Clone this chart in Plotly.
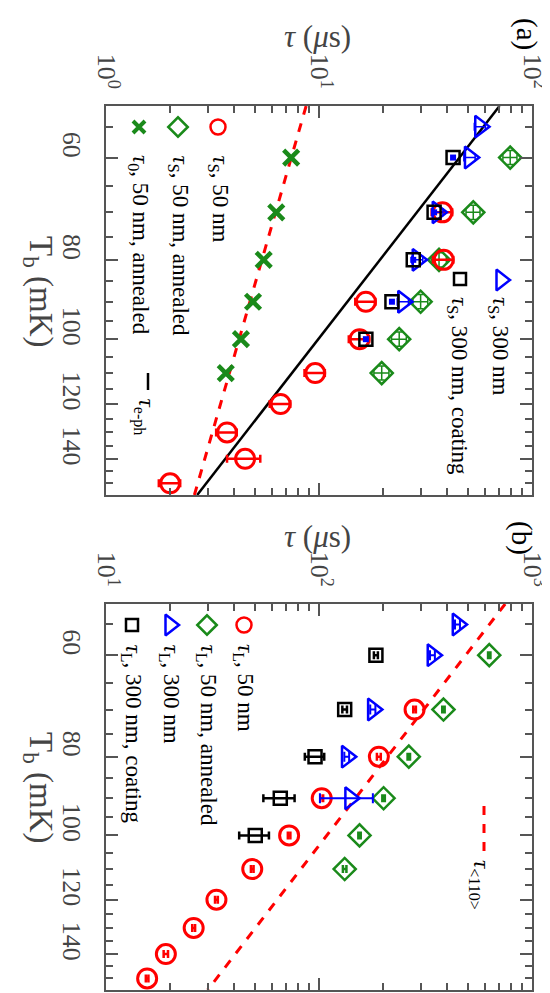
import math
import plotly.graph_objects as go

W, H = 550, 993
SERIF = "Liberation Serif, Times New Roman, serif"
RED, GREEN, BLUE, BLACK = "#ff0000", "#1a8a1a", "#0000ff", "#000000"

# ---------------- panel (a) : tau_S, tau_0 (us) vs T_b (mK)
T_s50 = [70, 80, 90, 100, 110, 120, 130, 140, 150]
tau_s50 = [38, 38.5, 16.6, 15.5, 9.6, 6.6, 3.7, 4.5, 2.0]
err_s50 = [4.2, 4.2, 1.8, 1.7, 1.05, 0.73, 0.41, 0.8, 0.23]

T_s50ann = [60, 70, 80, 90, 100, 110]
tau_s50ann = [79, 53, 36.6, 30, 23.8, 19.7]
err_s50ann = [6, 4, 3, 2.4, 1.9, 1.6]
errT_s50ann = [1.2, 1.4, 1.6, 1.8, 2.0, 2.2]

T_0ann = [60, 70, 80, 90, 100, 110]
tau_0ann = [7.4, 6.3, 5.5, 4.9, 4.3, 3.65]

T_s300 = [55, 60, 70, 80, 90]
tau_s300 = [57, 51, 36, 29, 24.8]
err_s300 = [3.4, 3.1, 2.2, 1.7, 1.5]

T_s300c = [60, 70, 80, 90, 100]
tau_s300c = [42.6, 34.7, 27.7, 22, 16.6]

T_fit = [51.9, 155]
tau_eph = [70.4, 2.68]
tau_0fit = [8.7, 2.6]

# ---------------- panel (b) : tau_L (us) vs T_b (mK)
T_L50 = [70, 80, 90, 100, 110, 120, 130, 140, 150]
tau_L50 = [281, 191, 103, 72.4, 48.6, 33, 25.8, 19.1, 15.6]
err_L50 = [4, 4, 1.6, 1.0, 0.7, 0.5, 0.4, 0.45, 0.22]

T_L50ann = [60, 70, 80, 90, 100, 110]
tau_L50ann = [630, 384, 264, 201, 155, 132]
err_L50ann = [8, 5, 3.5, 2.7, 2, 2.5]

T_L300 = [55, 60, 70, 80, 90]
tau_L300 = [447, 341, 179, 135, 140]
err_L300 = [12, 9, 5, 3.5, 39]

T_L300c = [60, 70, 80, 90, 100]
tau_L300c = [185, 132, 95.8, 65.8, 50.2]
err_L300c = [4, 3.3, 10, 11, 8]

tau_110 = [748, 30]

T_major = [60, 80, 100, 120, 140]
T_minor = [t for t in range(55, 155, 5) if t not in T_major]


def pts(x, y, xa, ya, symbol, color, size, lw=2.5, err=None, errw=2, cap=4,
        fill=None, erry=None):
    tr = go.Scatter(
        x=x, y=y, xaxis=xa, yaxis=ya, mode="markers", showlegend=False,
        cliponaxis=False,
        marker=dict(symbol=symbol, size=size, color=fill or "rgba(0,0,0,0)",
                    line=dict(color=color, width=lw)))
    if err is not None:
        tr.error_x = dict(type="data", array=err, color=color,
                          thickness=errw, width=cap)
    if erry is not None:
        tr.error_y = dict(type="data", array=erry, color=color,
                          thickness=errw, width=cap)
    return tr


def line(x, y, xa, ya, color, dash, width):
    return go.Scatter(x=x, y=y, xaxis=xa, yaxis=ya, mode="lines",
                      showlegend=False, line=dict(color=color, dash=dash, width=width))


fig = go.Figure()

# panel (a)
fig.add_trace(line(tau_0fit, T_fit, "x", "y", RED, "dash", 3))
fig.add_trace(line(tau_eph, T_fit, "x", "y", BLACK, "solid", 2.5))
fig.add_trace(pts(tau_s50ann, T_s50ann, "x", "y", "diamond", GREEN, 17,
                  err=err_s50ann, errw=1.5, cap=3, erry=errT_s50ann))
fig.add_trace(pts(tau_s50, T_s50, "x", "y", "circle", RED, 19, lw=3,
                  err=err_s50, errw=2.5, cap=4))
fig.add_trace(pts(tau_s300, T_s300, "x", "y", "triangle-right", BLUE, 19,
                  err=err_s300, errw=1.5, cap=4))
fig.add_trace(pts(tau_s300c, T_s300c, "x", "y", "square", BLACK, 13))
fig.add_trace(pts(tau_s300c, T_s300c, "x", "y", "square", BLUE, 6, lw=0,
                  fill=BLUE))
fig.add_trace(pts(tau_0ann, T_0ann, "x", "y", "x-thin", GREEN, 15, lw=4.5))

# panel (b)
fig.add_trace(line(tau_110, T_fit, "x2", "y2", RED, "dash", 3))
fig.add_trace(pts(tau_L50ann, T_L50ann, "x2", "y2", "diamond", GREEN, 17,
                  err=err_L50ann, errw=2.5, cap=4))
fig.add_trace(pts(tau_L50, T_L50, "x2", "y2", "circle", RED, 19, lw=3,
                  err=err_L50, errw=2.5, cap=4))
fig.add_trace(pts(tau_L300, T_L300, "x2", "y2", "triangle-right", BLUE, 19,
                  err=err_L300, errw=2, cap=5))
fig.add_trace(pts(tau_L300c, T_L300c, "x2", "y2", "square", BLACK, 13,
                  err=err_L300c, errw=2.5, cap=4))

# legend keys, placed in page pixels on a hidden overlay axis
keys = [
    (210, 119, "circle", RED, 15), (170, 119, "diamond", GREEN, 15),
    (131, 119, "x-thin", GREEN, 12),
    (493, 272, "triangle-right", BLUE, 18), (452, 271, "square", BLACK, 12),
    (236, 617, "circle", RED, 15), (199, 617, "diamond", GREEN, 15),
    (162, 617, "triangle-right", BLUE, 18), (124, 617, "square", BLACK, 12),
]
for kx, ky, sym, col, sz in keys:
    fig.add_trace(go.Scatter(
        x=[kx], y=[ky], xaxis="x3", yaxis="y3", mode="markers", showlegend=False,
        marker=dict(symbol=sym, size=sz, color="rgba(0,0,0,0)",
                    line=dict(color=col, width=4 if sym == "x-thin" else 2.5))))

ax_common = dict(
    ticks="inside", ticklen=12, tickwidth=1.5, tickcolor="#555",
    showline=True, linecolor="#555", linewidth=2, mirror="ticks",
    showgrid=False, zeroline=False, automargin=False, tickangle=90,
    tickfont=dict(family=SERIF, size=26, color="#444"),
)
log_minor = [m * 10 ** k for k in range(0, 3) for m in range(2, 10)]


def tau_axis(domain, anchor, lo):
    vals = [10 ** lo, 10 ** (lo + 1), 10 ** (lo + 2)]
    return dict(ax_common, type="log", domain=domain, anchor=anchor, side="top",
                range=[lo, lo + 2], tickmode="array", tickvals=vals,
                ticktext=["10<sup>%d</sup>" % (lo + i) for i in range(3)],
                ticklabelstandoff=6,
                minor=dict(ticks="inside", ticklen=7, tickwidth=1.5,
                           tickcolor="#555", tickvals=log_minor))


def t_axis(domain, anchor):
    return dict(ax_common, type="log", domain=domain, anchor=anchor, side="left",
                range=[math.log10(155), math.log10(51.9)], tickmode="array",
                tickvals=T_major, ticktext=[str(t) for t in T_major],
                ticklabelstandoff=10, ticklabelshift=9,
                minor=dict(ticks="inside", ticklen=7, tickwidth=1.5,
                           tickcolor="#555", tickvals=T_minor))


xdom = [98 / W, 524 / W]
fig.update_layout(
    width=W, height=H, margin=dict(l=0, r=0, t=0, b=0),
    paper_bgcolor="white", plot_bgcolor="rgba(0,0,0,0)", showlegend=False,
    xaxis=tau_axis(xdom, "y", 0),
    yaxis=t_axis([1 - 487 / H, 1 - 98 / H], "x"),
    xaxis2=tau_axis(xdom, "y2", 1),
    yaxis2=t_axis([1 - 982 / H, 1 - 596 / H], "x2"),
    xaxis3=dict(domain=[0, 1], range=[0, W], visible=False, anchor="y3"),
    yaxis3=dict(domain=[0, 1], range=[H, 0], visible=False, anchor="x3"),
)


def note(text, x, y, size=23, angle=90, xanchor="center", yanchor="top",
         color=BLACK):
    fig.add_annotation(text=text, x=x / W, y=1 - y / H, xref="paper",
                       yref="paper", showarrow=False, textangle=angle,
                       xanchor=xanchor, yanchor=yanchor,
                       font=dict(family=SERIF, size=size, color=color))


tau = "<i>τ</i>"
# axis titles and panel tags
for yc in (28, 528):
    note(tau + " (<i>μ</i>s)", 309, yc, size=31, angle=0, yanchor="middle",
         color="#444")
for yc in (283, 779):
    note("T<sub>b</sub> (mK)", 31, yc, size=33, yanchor="middle", color="#444")
note("(a)", 518, 26, size=29, yanchor="middle")
note("(b)", 514, 530, size=29, yanchor="middle")

# legend texts, panel (a)
note(tau + "<sub>S</sub>, 50 nm", 210, 145)
note(tau + "<sub>S</sub>, 50 nm, annealed", 170, 145)
note(tau + "<sub>0</sub>, 50 nm, annealed", 131, 145)
note(tau + "<sub>e-ph</sub>", 136, 388)
note(tau + "<sub>S</sub>, 300 nm", 491, 287)
note(tau + "<sub>S</sub>, 300 nm, coating", 450, 287)
# legend texts, panel (b)
note(tau + "<sub>L</sub>, 50 nm", 236, 634)
note(tau + "<sub>L</sub>, 50 nm, annealed", 199, 634)
note(tau + "<sub>L</sub>, 300 nm", 162, 634)
note(tau + "<sub>L</sub>, 300 nm, coating", 124, 634)
note(tau + "<sub>&lt;110&gt;</sub>", 472, 850)

# short line keys
fig.add_shape(type="line", xref="paper", yref="paper", x0=140 / W, x1=140 / W,
              y0=1 - 365 / H, y1=1 - 382 / H, line=dict(color=BLACK, width=2.5))
fig.add_shape(type="line", xref="paper", yref="paper", x0=476 / W, x1=476 / W,
              y0=1 - 798 / H, y1=1 - 843 / H,
              line=dict(color=RED, width=3, dash="dash"))

fig.write_html("out.html")
